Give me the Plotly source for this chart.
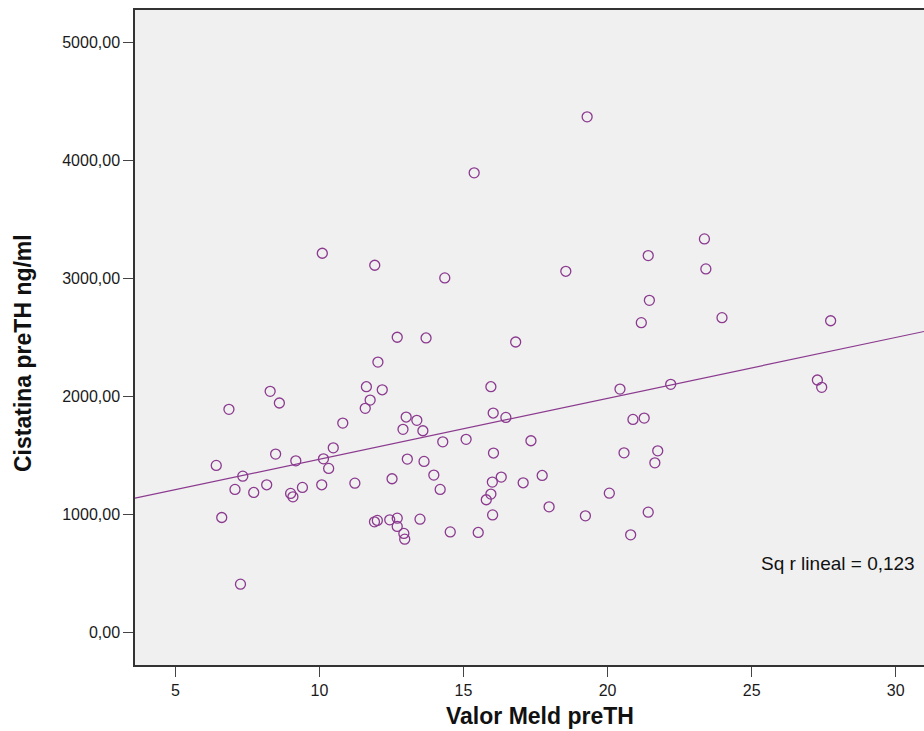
import numpy as np
import plotly.graph_objects as go

# MELD score before transplant vs. cystatin C before transplant
meld_preth = [
    19.29, 15.37, 10.10, 11.92, 14.35, 18.55, 23.36, 21.41, 23.41, 21.45,
    21.17, 23.97, 27.74, 12.70, 13.70, 12.03, 11.63, 12.18, 8.29, 8.61,
    11.76, 11.59, 6.86, 10.81, 13.01, 13.38, 12.90, 13.59, 10.48, 8.48,
    10.14, 9.18, 6.42, 13.05, 13.63, 13.97, 10.32, 7.34, 12.52, 8.17,
    10.08, 11.23, 7.07, 9.41, 7.72, 9.00, 9.08, 6.61, 11.91, 12.01,
    12.44, 12.70, 13.49, 12.70, 12.93, 12.96, 7.26, 16.81, 15.95, 20.43,
    22.19, 16.03, 16.47, 20.88, 21.27, 14.28, 15.09, 17.34, 16.04, 20.57,
    21.74, 21.64, 14.19, 16.00, 16.31, 17.07, 17.73, 15.95, 15.79, 20.06,
    17.97, 19.23, 21.41, 16.01, 14.54, 15.51, 20.80, 27.28, 27.43,
]
cistatina_preth = [
    4370, 3895, 3214, 3112, 3005, 3061, 3335, 3194, 3081, 2815,
    2626, 2668, 2642, 2502, 2496, 2292, 2083, 2057, 2044, 1945,
    1970, 1900, 1891, 1775, 1826, 1798, 1722, 1710, 1565, 1512,
    1472, 1455, 1416, 1470, 1450, 1334, 1391, 1325, 1303, 1252,
    1252, 1266, 1213, 1230, 1187, 1179, 1150, 975, 938, 950,
    955, 969, 961, 899, 840, 791, 410, 2462, 2083, 2063,
    2103, 1860, 1823, 1806, 1817, 1616, 1637, 1625, 1521, 1523,
    1540, 1438, 1213, 1275, 1317, 1269, 1331, 1173, 1125, 1181,
    1065, 989, 1020, 997, 853, 848, 828, 2140, 2078,
]

x_ticks = [5, 10, 15, 20, 25, 30]
x_tick_text = ["5", "10", "15", "20", "25", "30"]
y_ticks = [0, 1000, 2000, 3000, 4000, 5000]
y_tick_text = ["0,00", "1000,00", "2000,00", "3000,00", "4000,00", "5000,00"]
r2_label = "Sq r lineal = 0,123"

X_RANGE = [3.60, 30.98]
Y_RANGE = [-275, 5275]

PURPLE = "#8b3a8f"
FONT = "Liberation Sans, Arial, sans-serif"

# Least-squares fit line drawn across the full x range
slope, intercept = np.polyfit(meld_preth, cistatina_preth, 1)
fit_x = np.array(X_RANGE)
fit_y = intercept + slope * fit_x

fig = go.Figure()
fig.add_trace(go.Scatter(
    x=fit_x, y=fit_y, mode="lines",
    line=dict(color=PURPLE, width=1.2),
    hoverinfo="skip", showlegend=False,
))
fig.add_trace(go.Scatter(
    x=meld_preth, y=cistatina_preth, mode="markers",
    marker=dict(symbol="circle-open", size=10, color=PURPLE,
                line=dict(color=PURPLE, width=1.3)),
    showlegend=False,
))

fig.update_layout(
    width=924, height=731,
    margin=dict(l=135, r=0, t=10, b=66),
    paper_bgcolor="white",
    plot_bgcolor="#f0f0f0",
    font=dict(family=FONT, size=16, color="#1a1a1a"),
    xaxis=dict(
        range=X_RANGE, tickvals=x_ticks, ticktext=x_tick_text,
        showgrid=False, zeroline=False,
        showline=True, mirror=True, linecolor="#333333", linewidth=1.5,
        ticks="outside", ticklen=10, tickwidth=1, tickcolor="#444444",
    ),
    yaxis=dict(
        range=Y_RANGE, tickvals=y_ticks, ticktext=y_tick_text,
        showgrid=False, zeroline=False,
        showline=True, linecolor="#333333", linewidth=1.5,
        ticks="outside", ticklen=10, tickwidth=1, tickcolor="#444444",
    ),
    annotations=[
        dict(text="<b>Valor Meld preTH</b>", xref="paper", yref="paper",
             x=0.5133, y=-0.078, xanchor="center", yanchor="middle",
             showarrow=False, font=dict(size=23, color="#111111")),
        dict(text="<b>Cistatina preTH ng/ml</b>", xref="paper", yref="paper",
             x=-0.142, y=0.4763, xanchor="center", yanchor="middle",
             textangle=-90, showarrow=False,
             font=dict(size=23, color="#111111")),
        dict(text=r2_label, xref="paper", yref="paper",
             x=0.9915, y=0.1554, xanchor="right", yanchor="middle",
             showarrow=False, font=dict(size=19, color="#111111")),
    ],
)

fig.write_html("out.html")
